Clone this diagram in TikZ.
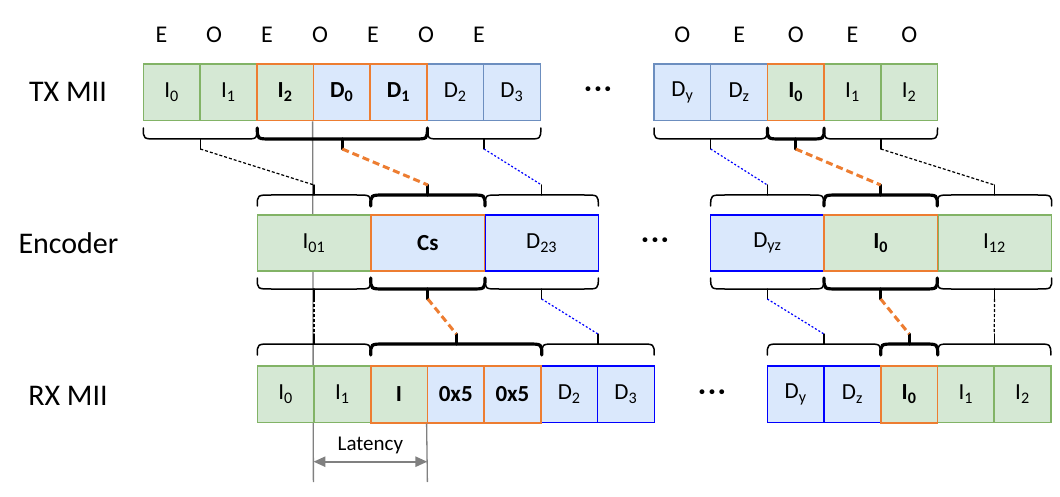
\documentclass[tikz,border=0pt]{standalone}
\usepackage{fontspec}
\setmainfont{Carlito}
\usetikzlibrary{arrows.meta}

\definecolor{cellgreen}{HTML}{D5E8D4}
\definecolor{edgegreen}{HTML}{82B366}
\definecolor{cellblue}{HTML}{DAE8FC}
\definecolor{edgeblue}{HTML}{6C8EBF}
\definecolor{edgeorange}{HTML}{ED7D31}
\definecolor{latgrey}{HTML}{808080}

% brace under/over a group of cells: name, x left, x right, y of ends, direction (1 down, -1 up), style
\newcommand{\cellbrace}[6]{%
  \draw[#6] (#2,#4) .. controls (#2,{#4+11*(#5)}) .. ({#2+14},{#4+11*(#5)})
    -- ({#3-14},{#4+11*(#5)}) .. controls (#3,{#4+11*(#5)}) .. (#3,#4);
  \draw[#6] ({(#2+#3)/2},{#4+11*(#5)}) -- ({(#2+#3)/2},{#4+21*(#5)}) coordinate (#1);
}

\begin{document}
\begin{tikzpicture}[x=1pt, y=-1pt,
    cell/.style={draw, line width=1.4pt, minimum width=56.7pt, minimum height=56.7pt,
      inner sep=0pt, font=\fontsize{23}{26}\selectfont},
    wide/.style={minimum width=113.4pt, minimum height=56pt},
    idle/.style={cell, fill=cellgreen, draw=edgegreen},
    dat/.style={cell, fill=cellblue, draw=edgeblue},
    datb/.style={cell, fill=cellblue, draw=blue},
    hot/.style={draw=edgeorange, line width=1.6pt, font=\fontsize{23}{26}\selectfont\bfseries},
    parity/.style={font=\fontsize{24}{28}\selectfont},
    rowname/.style={font=\fontsize{30}{34}\selectfont},
    gap/.style={font=\fontsize{26}{30}\selectfont\bfseries},
    thinbrace/.style={line width=1.5pt, line cap=round},
    thickbrace/.style={line width=3.2pt, line cap=round},
    link/.style={line width=1.2pt, dash pattern=on 3pt off 2pt},
    linkhot/.style={edgeorange, line width=3pt, dash pattern=on 7pt off 4pt},
    linkblue/.style={blue, line width=1.2pt, dash pattern=on 2pt off 2pt},
    latline/.style={latgrey, line width=1.3pt},
  ]
  \useasboundingbox (0,0) rectangle (1060,497);

  % Row names
  \node[rowname] (txname) at (68,92) {TX MII};
  \node[rowname] (enname) at (68.5,243) {Encoder};
  \node[rowname] (rxname) at (68,396) {RX MII};

  % Even / odd marks
  \node[parity] (p1) at (161.5,35) {E};
  \node[parity] (p2) at (214,35) {O};
  \node[parity] (p3) at (267,35) {E};
  \node[parity] (p4) at (320,35) {O};
  \node[parity] (p5) at (373,35) {E};
  \node[parity] (p6) at (426,35) {O};
  \node[parity] (p7) at (479,35) {E};
  \node[parity] (p8) at (682.4,35) {O};
  \node[parity] (p9) at (739.1,35) {E};
  \node[parity] (p10) at (795.8,35) {O};
  \node[parity] (p11) at (852.5,35) {E};
  \node[parity] (p12) at (909.2,35) {O};

  % TX MII cells
  \node[idle] (tx1) at (171.65,92.35) {I\textsubscript{0}};
  \node[idle] (tx2) at (228.35,92.35) {I\textsubscript{1}};
  \node[dat] (tx6) at (455.15,92.35) {D\textsubscript{2}};
  \node[dat] (tx7) at (511.85,92.35) {D\textsubscript{3}};
  \node[idle, hot] (tx3) at (285.05,92.35) {I\textsubscript{2}};
  \node[dat, hot] (tx4) at (341.75,92.35) {D\textsubscript{0}};
  \node[dat, hot] (tx5) at (398.45,92.35) {D\textsubscript{1}};
  \node[gap] (txdots) at (598,92) {·\kern3pt·\kern3pt·};
  \node[dat] (tx8) at (682.35,92.35) {D\textsubscript{y}};
  \node[dat] (tx9) at (739.05,92.35) {D\textsubscript{z}};
  \node[idle] (tx11) at (852.45,92.35) {I\textsubscript{1}};
  \node[idle] (tx12) at (909.15,92.35) {I\textsubscript{2}};
  \node[idle, hot] (tx10) at (795.75,92.35) {I\textsubscript{0}};

  % Latency marker lines (behind the lower rows)
  \coordinate (lat1) at (313.4,482);
  \coordinate (lat2) at (427.4,482);
  \draw[latline] (tx4.south west) -- (lat1);

  % Encoder cells
  \node[idle, wide] (en1) at (314,243) {I\textsubscript{01}};
  \node[datb, wide] (en3) at (541.65,243) {D\textsubscript{23}};
  \node[dat, wide, hot] (en2) at (427.85,243) {Cs};
  \node[gap] (endots) at (655,243) {·\kern3pt·\kern3pt·};
  \node[datb, wide] (en4) at (767.35,243) {D\textsubscript{yz}};
  \node[idle, wide] (en6) at (994.5,243) {I\textsubscript{12}};
  \node[idle, wide, hot] (en5) at (880.65,243) {I\textsubscript{0}};

  % RX MII cells
  \node[idle] (rx1) at (285.65,394.35) {I\textsubscript{0}};
  \node[idle] (rx2) at (342.35,394.35) {I\textsubscript{1}};
  \node[datb] (rx6) at (569.15,394.35) {D\textsubscript{2}};
  \node[datb] (rx7) at (625.85,394.35) {D\textsubscript{3}};
  \node[idle, hot] (rx3) at (399.05,394.35) {I};
  \node[dat, hot] (rx4) at (455.75,394.35) {0x5};
  \node[dat, hot] (rx5) at (512.45,394.35) {0x5};
  \node[gap] (rxdots) at (712,395) {·\kern3pt·\kern3pt·};
  \node[datb] (rx8) at (795.65,394.35) {D\textsubscript{y}};
  \node[datb] (rx9) at (852.35,394.35) {D\textsubscript{z}};
  \node[idle] (rx11) at (965.75,394.35) {I\textsubscript{1}};
  \node[idle] (rx12) at (1022.45,394.35) {I\textsubscript{2}};
  \node[idle, hot] (rx10) at (909.05,394.35) {I\textsubscript{0}};

  % Latency
  \coordinate (arr1) at (313.4,461.7);
  \coordinate (arr2) at (427.4,461.7);
  \draw[latline] (rx4.south west) -- (lat2);
  \draw[latgrey, line width=2.4pt, {Triangle[length=12pt,width=10pt]}-{Triangle[length=12pt,width=10pt]}] (arr1) -- (arr2);
  \node[font=\fontsize{21}{24}\selectfont] (latlabel) at (370.4,445) {Latency};

  % Braces
  \cellbrace{txb1}{143.3}{257.3}{128}{1}{thinbrace}
  \cellbrace{txb2}{257.3}{427.4}{128}{1}{thickbrace}
  \cellbrace{txb3}{427.4}{540.8}{128}{1}{thinbrace}
  \cellbrace{txb4}{654}{767.4}{128}{1}{thinbrace}
  \cellbrace{txb5}{767.4}{824.1}{128}{1}{thickbrace}
  \cellbrace{txb6}{824.1}{937.5}{128}{1}{thinbrace}

  \cellbrace{enu1}{257.3}{370.7}{206}{-1}{thinbrace}
  \cellbrace{enu2}{370.7}{485}{206}{-1}{thickbrace}
  \cellbrace{enu3}{485}{598.3}{206}{-1}{thinbrace}
  \cellbrace{enu4}{710.7}{824}{206}{-1}{thinbrace}
  \cellbrace{enu5}{824}{937.3}{206}{-1}{thickbrace}
  \cellbrace{enu6}{937.3}{1051.7}{206}{-1}{thinbrace}

  \cellbrace{enl1}{257.3}{370.7}{278}{1}{thinbrace}
  \cellbrace{enl2}{370.7}{485}{278}{1}{thickbrace}
  \cellbrace{enl3}{485}{598.3}{278}{1}{thinbrace}
  \cellbrace{enl4}{710.7}{824}{278}{1}{thinbrace}
  \cellbrace{enl5}{824}{937.3}{278}{1}{thickbrace}
  \cellbrace{enl6}{937.3}{1051.7}{278}{1}{thinbrace}

  \cellbrace{rxb1}{257.3}{370.7}{355}{-1}{thinbrace}
  \cellbrace{rxb2}{370.7}{541.8}{355}{-1}{thickbrace}
  \cellbrace{rxb3}{541.8}{654.2}{355}{-1}{thinbrace}
  \cellbrace{rxb4}{767.3}{880.7}{355}{-1}{thinbrace}
  \cellbrace{rxb5}{880.7}{937.7}{355}{-1}{thickbrace}
  \cellbrace{rxb6}{937.7}{1050.8}{355}{-1}{thinbrace}

  % Links TX -> Encoder
  \draw[link] (txb1) -- (enu1);
  \draw[linkhot] (txb2) -- (enu2);
  \draw[linkblue] (txb3) -- (enu3);
  \draw[linkblue] (txb4) -- (enu4);
  \draw[linkhot] (txb5) -- (enu5);
  \draw[link] (txb6) -- (enu6);

  % Links Encoder -> RX
  \draw[link] (enl1) -- (rxb1);
  \draw[linkhot] (enl2) -- (rxb2);
  \draw[linkblue] (enl3) -- (rxb3);
  \draw[linkblue] (enl4) -- (rxb4);
  \draw[linkhot] (enl5) -- (rxb5);
  \draw[link] (enl6) -- (rxb6);
\end{tikzpicture}
\end{document}
